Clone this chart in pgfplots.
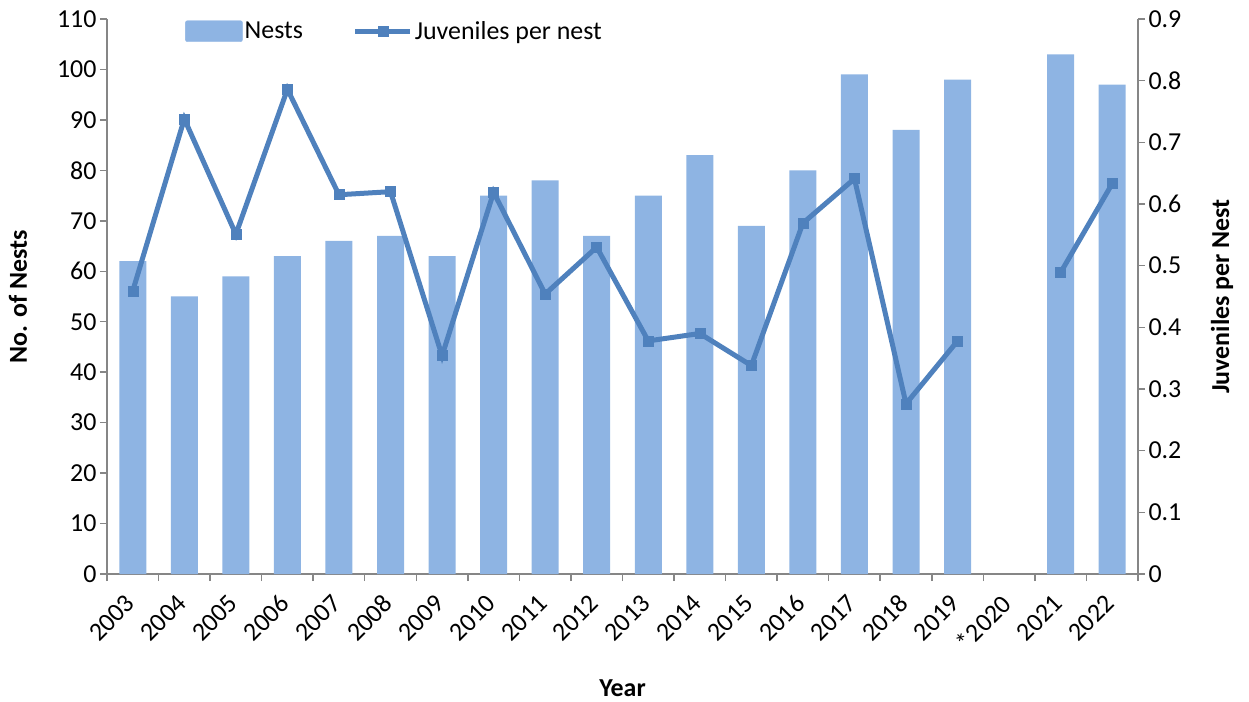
\documentclass[border=0pt]{standalone}
\usepackage{fontspec}
\setmainfont{Carlito}
\usepackage{pgfplots}
\usepackage{pgfplotstable}
\pgfplotsset{compat=1.18}
\definecolor{barblue}{RGB}{142,180,227}
\definecolor{lineblue}{RGB}{79,129,189}
\definecolor{axisgray}{RGB}{134,134,134}

\pgfplotstableread{
x nests juv
0 62 0.459
1 55 0.738
2 59 0.551
3 63 0.786
4 66 0.615
5 67 0.620
6 63 0.354
7 75 0.619
8 78 0.454
9 67 0.530
10 75 0.378
11 83 0.390
12 69 0.338
13 80 0.569
14 99 0.641
15 88 0.276
16 98 0.378
17 nan nan
18 103 0.489
19 97 0.633
}\datatable

\pgfplotsset{
  common/.style={
    scale only axis, width=1031bp, height=555bp,
    xmin=-0.5, xmax=19.5, enlargelimits=false,
    font=\fontsize{26}{31}\selectfont,
    ticklabel style={font=\fontsize{26}{31}\selectfont, text=black},
    /pgf/number format/assume math mode=true,
    axis line style={axisgray, line width=1.5bp},
    tick style={axisgray, line width=1.5bp},
    tick align=outside, major tick length=7bp, minor tick length=7bp,
  },
  barlegend/.style={legend image code/.code={\fill[barblue, rounded corners=2bp] (0bp,-10.5bp) rectangle (57bp,10.5bp);}},
  linelegend/.style={legend image code/.code={\draw[##1, mark repeat=2, mark phase=2] plot coordinates {(0bp,0bp) (27.5bp,0bp) (55bp,0bp)};}},
}

\begin{document}
\begin{tikzpicture}
\path[use as bounding box] (-107bp,-128bp) rectangle (1142bp,574bp);
\begin{axis}[common,
  ybar, bar width=27bp,
  ymin=0, ymax=110, ytick={0,10,20,30,40,50,60,70,80,90,100,110},
  axis x line*=bottom, axis y line*=left,
  xtick={0,...,19},
  xticklabels={2003,2004,2005,2006,2007,2008,2009,2010,2011,2012,2013,2014,2015,2016,2017,2018,2019,*2020,2021,2022},
  minor xtick={-0.5,0.5,...,19.5},
  major x tick style={draw=none},
  xticklabel style={rotate=45, anchor=east},
  xticklabel shift=16bp,
  ylabel={\bfseries No. of Nests},
  ylabel style={at={(axis description cs:-0.0863,0.5)}, anchor=center},
  xlabel={\bfseries Year},
  xlabel style={at={(axis description cs:0.5,-0.2054)}, anchor=center},
]
\addplot[fill=barblue, draw=none] table[x=x, y=nests] {\datatable};
\end{axis}
\begin{axis}[common,
  ymin=0, ymax=0.9, ytick={0,0.1,0.2,0.3,0.4,0.5,0.6,0.7,0.8,0.9},
  yticklabel style={/pgf/number format/fixed, /pgf/number format/precision=1},
  axis y line*=right, axis x line=none,
  ylabel={\bfseries Juveniles per Nest},
  ylabel style={at={(axis description cs:1.0815,0.5)}, anchor=center, rotate=0},
  unbounded coords=jump,
  legend columns=2,
  legend style={at={(axis description cs:0.0757,0.978)}, anchor=west, draw=none, fill=none, inner sep=0pt,
    font=\fontsize{26}{31}\selectfont,
    /tikz/every even column/.append style={column sep=48bp}},
]
\addlegendimage{barlegend}
\addlegendentry{Nests}
\addplot[lineblue, line width=5bp, mark=square*, mark size=5bp, mark options={solid, line width=0.5bp}, linelegend]
  table[x=x, y=juv] {\datatable};
\addlegendentry{Juveniles per nest}
\end{axis}
\end{tikzpicture}
\end{document}
